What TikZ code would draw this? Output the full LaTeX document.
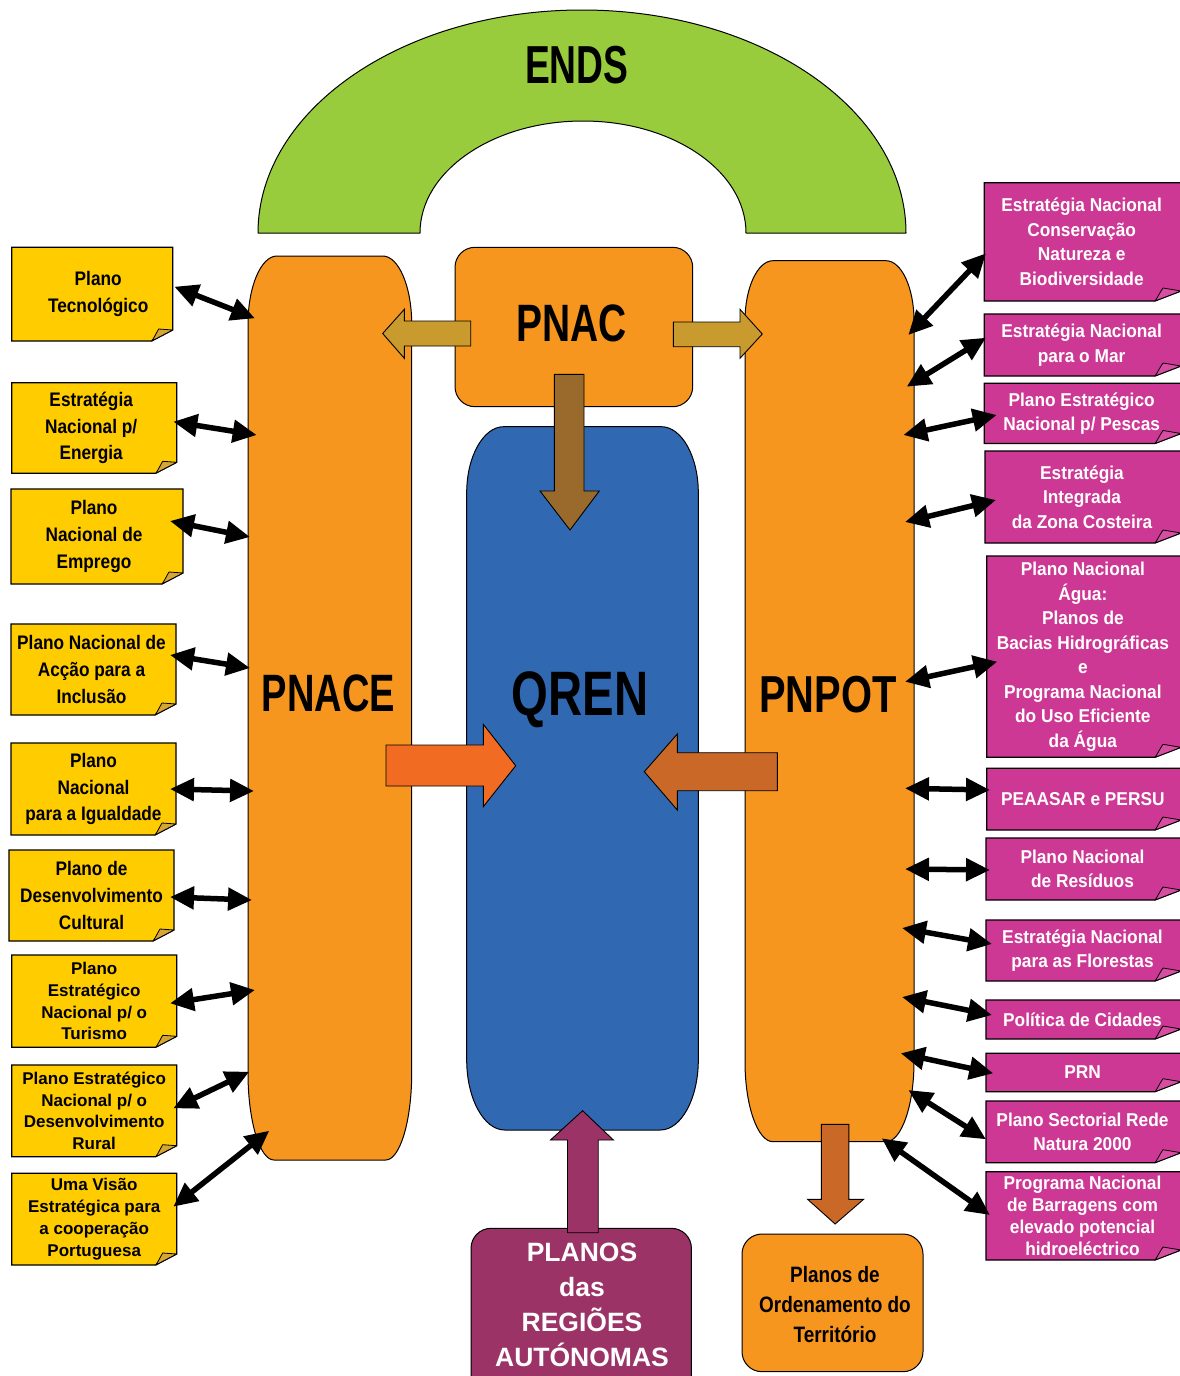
\documentclass[tikz,border=0pt]{standalone}
\usepackage{fontspec}
\setmainfont{Liberation Sans}
\newfontfamily\fT{Liberation Sans}[FakeStretch=0.74]
\newfontfamily\fL{Liberation Sans}[FakeStretch=0.88]
\newfontfamily\fR{Liberation Sans}[FakeStretch=0.93]
\newfontfamily\fO{Liberation Sans}[FakeStretch=0.85]
\usetikzlibrary{arrows.meta}
\definecolor{cOr}{HTML}{F7961E}
\definecolor{cYe}{HTML}{FFCC00}
\definecolor{cYf}{HTML}{D6A635}
\definecolor{cMa}{HTML}{CD3894}
\definecolor{cMf}{HTML}{D64DA2}
\definecolor{cBl}{HTML}{3068B2}
\definecolor{cGr}{HTML}{99CC3D}
\definecolor{cPu}{HTML}{9B3366}
\definecolor{cGo}{HTML}{C99A2E}
\definecolor{cBr}{HTML}{9A6A2C}
\definecolor{cRo}{HTML}{F26B23}
\definecolor{cCu}{HTML}{CA6828}
\tikzset{
  shp/.style={draw=black, line width=1pt, line join=round},
  ybx/.style={fill=cYe, draw=black, line width=1.2pt},
  yflap/.style={fill=cYf, draw=black, line width=0.8pt, line join=round},
  mbx/.style={fill=cMa, draw=black, line width=1.2pt},
  mflap/.style={fill=cMf, draw=black, line width=0.8pt, line join=round},
  blk/.style={draw=black, line width=0.9pt, line join=miter},
  lt/.style={align=center, inner sep=0pt, text=black, font=\fL\bfseries\fontsize{19.6}{26.7}\selectfont},
  lb/.style={align=center, inner sep=0pt, text=black, font=\bfseries\fontsize{17}{21.7}\selectfont},
  rt/.style={align=center, inner sep=0pt, text=white, font=\fR\bfseries\fontsize{18.6}{24.5}\selectfont},
  rtb/.style={align=center, inner sep=0pt, text=white, font=\fR\bfseries\fontsize{18.6}{22.2}\selectfont},
  ttl/.style={anchor=base, inner sep=0pt, text=black, font=\fT\bfseries\fontsize{#1}{#1}\selectfont},
  dbl/.style={line width=5.5pt, arrows={Triangle[length=24pt,width=22pt]-Triangle[length=24pt,width=22pt]}},
}
% column with elliptical corners: x1,y1,x2,y2,rxT,ryT,rxB,ryB
\newcommand{\colshape}[9]{%
  \path[#1] (#2,#3+#7) .. controls (#2,#3+0.45*#7) and (#2+0.45*#6,#3) .. (#2+#6,#3)
    -- (#4-#6,#3) .. controls (#4-0.45*#6,#3) and (#4,#3+0.45*#7) .. (#4,#3+#7)
    -- (#4,#5-#9) .. controls (#4,#5-0.45*#9) and (#4-0.45*#8,#5) .. (#4-#8,#5)
    -- (#2+#8,#5) .. controls (#2+0.45*#8,#5) and (#2,#5-0.45*#9) .. (#2,#5-#9) -- cycle;}
% yellow folded box: name,x1,y1,x2,y2,style,text
\newcommand{\yelbox}[7]{%
  \path[ybx] (#2,#3) -- (#4,#3) -- (#4,#5-11) -- (#4-21,#5) -- (#2,#5) -- cycle;
  \path[yflap] (#4-21,#5) .. controls (#4-18,#5-4) and (#4-16,#5-9) .. (#4-14,#5-12) -- (#4,#5-11) -- cycle;
  \node[#6] (#1) at ({(#2+#4)/2},{(#3+#5)/2}) {#7};}
% magenta folded box: name,x1,y1,y2,style,text
\newcommand{\magbox}[6]{%
  \path[mbx] (#2,#3) -- (1181,#3) -- (1181,#4-10) -- (1155,#4) -- (#2,#4) -- cycle;
  \path[mflap] (1155,#4) .. controls (1158,#4-4) and (1160,#4-9) .. (1163,#4-13) -- (1181,#4-10) -- cycle;
  \node[#5] (#1) at ({(#2+1179)/2},{(#3+#4)/2}) {#6};}
\begin{document}
\begin{tikzpicture}[x=1pt,y=-1pt]
\useasboundingbox (0,0) rectangle (1179,1376);
% ENDS arc
\path[shp, fill=cGr] (258,233) .. controls (258,109.8) and (403.1,10) .. (582,10)
  .. controls (760.9,10) and (906,109.8) .. (906,233) -- (746,233)
  .. controls (746,171.1) and (673,121) .. (583,121)
  .. controls (493,121) and (420,171.1) .. (420,233) -- cycle;
\node[ttl=53.5] (ends) at (576.7,83.3) {\scalebox{0.94}[1]{ENDS}};
% columns
\colshape{shp, fill=cOr}{248}{256}{411.7}{1160}{29}{68}{26}{87}
\colshape{shp, fill=cOr}{745}{260.7}{914}{1141.7}{28}{60}{28}{80}
\colshape{shp, fill=cBl}{466.7}{426.7}{698.3}{1130}{37}{66}{38}{70}
% PNAC box
\path[shp, fill=cOr, rounded corners=20pt] (455,247.3) rectangle (692.7,406.7);
% block arrows
\path[blk, fill=cGo] (470.7,321) -- (404.3,321) -- (404.3,309.3) -- (382.7,333.5) -- (404.3,358.3) -- (404.3,346) -- (470.7,346) -- cycle;
\path[blk, fill=cGo] (673.3,322) -- (740,322) -- (740,309.3) -- (762.3,334) -- (740,358.3) -- (740,346.7) -- (673.3,346.7) -- cycle;
\path[blk, fill=cBr] (554.3,374.3) -- (584,374.3) -- (584,491) -- (599.3,491) -- (570,530) -- (540,491) -- (554.3,491) -- cycle;
\path[blk, fill=cRo] (386,745) -- (483.3,745) -- (483.3,724.3) -- (515.7,765.7) -- (483.3,806.7) -- (483.3,786) -- (386,786) -- cycle;
\path[blk, fill=cCu] (777.3,752.7) -- (677.3,752.7) -- (677.3,734) -- (644.3,771.7) -- (677.3,810) -- (677.3,790.7) -- (777.3,790.7) -- cycle;
% titles
\node[ttl=52.6] (pnac) at (571.7,341) {PNAC};
\node[ttl=52.6] (pnace) at (328.3,711.7) {\scalebox{0.978}[1]{PNACE}};
\node[ttl=52] (pnpot) at (828,712.3) {\scalebox{1.036}[1]{PNPOT}};
\node[ttl=62.8] (qren) at (580,715) {\scalebox{1.017}[1]{QREN}};
% bottom boxes
\path[shp, fill=cPu, rounded corners=20pt] (471,1228.3) rectangle (691.4,1400);
\path[shp, fill=cOr, rounded corners=20pt] (742,1234) rectangle (923,1371.7);
\path[blk, fill=cPu] (567.5,1232.7) -- (567.5,1140) -- (550.5,1140) -- (582.6,1110.7) -- (613.4,1140) -- (598.2,1140) -- (598.2,1232.7) -- cycle;
\path[blk, fill=cCu] (821.4,1124.3) -- (848.9,1124.3) -- (848.9,1199.3) -- (863.6,1199.3) -- (835.1,1224) -- (807.6,1199.3) -- (821.4,1199.3) -- cycle;
\node[align=center, inner sep=0pt, text=white, font=\bfseries\fontsize{26.5}{35}\selectfont] (planos) at (582,1305) {PLANOS\\das\\REGIÕES\\AUTÓNOMAS};
\node[align=center, inner sep=0pt, text=black, font=\fO\bfseries\fontsize{22.3}{30}\selectfont] (ordem) at (835,1305) {Planos de\\Ordenamento do\\Território};
% left yellow boxes
\yelbox{y1}{11.7}{247.3}{172.7}{341}{lt, xshift=6pt}{Plano\\Tecnológico}
\yelbox{y2}{11.7}{382.7}{176.7}{473.3}{lt, xshift=-3pt}{Estratégia\\Nacional p/\\Energia}
\yelbox{y3}{11}{489}{183}{584}{lt, xshift=-3pt}{Plano\\Nacional de\\Emprego}
\yelbox{y4}{11}{624}{176}{715}{lt, xshift=-2pt}{Plano Nacional de\\Acção para a\\Inclusão}
\yelbox{y5}{11}{743}{176}{835}{lt}{Plano\\Nacional\\para a Igualdade}
\yelbox{y6}{9}{850}{174}{941}{lt}{Plano de\\Desenvolvimento\\Cultural}
\yelbox{y7}{11.7}{955}{176.7}{1047.3}{lb}{Plano\\Estratégico\\Nacional p/ o\\Turismo}
\yelbox{y8}{11.7}{1065}{176.7}{1156.7}{lb}{Plano Estratégico\\Nacional p/ o\\Desenvolvimento\\Rural}
\yelbox{y9}{11.7}{1173.3}{176.7}{1265}{lb}{Uma Visão\\Estratégica para\\a cooperação\\Portuguesa}
% right magenta boxes
\magbox{m1}{984.3}{182.7}{301}{rt}{Estratégia Nacional\\Conservação\\Natureza e\\Biodiversidade}
\magbox{m2}{984.3}{314}{376}{rt}{Estratégia Nacional\\para o Mar}
\magbox{m3}{984.3}{383.3}{443.5}{rt}{Plano Estratégico\\Nacional p/ Pescas}
\magbox{m4}{985}{451}{543}{rt}{Estratégia\\Integrada\\da Zona Costeira}
\magbox{m5}{986.7}{556}{757.3}{rt}{Plano Nacional\\Água:\\Planos de\\Bacias Hidrográficas\\e\\Programa Nacional\\do Uso Eficiente\\da Água}
\magbox{m6}{986.7}{768.3}{830}{rt}{PEAASAR e PERSU}
\magbox{m7}{986}{838}{900}{rt}{Plano Nacional\\de Resíduos}
\magbox{m8}{986}{920}{981}{rt}{Estratégia Nacional\\para as Florestas}
\magbox{m9}{986}{1000}{1039}{rt}{Política de Cidades}
\magbox{m10}{986}{1053.3}{1091.7}{rt}{PRN}
\magbox{m11}{986}{1101}{1162.7}{rt}{Plano Sectorial Rede\\Natura 2000}
\magbox{m12}{986}{1171.7}{1260}{rtb}{Programa Nacional\\de Barragens com\\elevado potencial\\hidroeléctrico}
% connector end points
\coordinate (a1) at (174.3,286.7);  \coordinate (b1) at (255,318.3);
\coordinate (a2) at (173.3,421.7);  \coordinate (b2) at (256.7,435);
\coordinate (a3) at (170,521);      \coordinate (b3) at (250,537);
\coordinate (a4) at (170,655);      \coordinate (b4) at (250,668);
\coordinate (a5) at (170,789);      \coordinate (b5) at (254,791);
\coordinate (a6) at (170,897);      \coordinate (b6) at (252,900);
\coordinate (a7) at (170,1003.3);   \coordinate (b7) at (255,990);
\coordinate (a8) at (173.3,1108.3); \coordinate (b8) at (249.3,1071.7);
\coordinate (a9) at (173.3,1206.7); \coordinate (b9) at (269.3,1130.7);
\coordinate (c1) at (908.3,335);    \coordinate (d1) at (986,253.3);
\coordinate (c2) at (906.7,386.7);  \coordinate (d2) at (986,337.7);
\coordinate (c3) at (903.3,435);    \coordinate (d3) at (996.7,415);
\coordinate (c4) at (905,522);      \coordinate (d4) at (996,500);
\coordinate (c5) at (905,681.7);    \coordinate (d5) at (997.3,661.7);
\coordinate (c6) at (905,788.3);    \coordinate (d6) at (990,790);
\coordinate (c7) at (905,869);      \coordinate (d7) at (990,870);
\coordinate (c8) at (902,928);      \coordinate (d8) at (992,944);
\coordinate (c9) at (902,997);      \coordinate (d9) at (992,1015);
\coordinate (c10) at (900.7,1053.3);\coordinate (d10) at (993.3,1073.3);
\coordinate (c11) at (908.3,1090);  \coordinate (d11) at (986,1139.3);
\coordinate (c12) at (881.7,1138.3);\coordinate (d12) at (990,1215);
\foreach \i in {1,...,9} {\draw[dbl] (a\i) -- (b\i);}
\foreach \i in {1,...,12} {\draw[dbl] (c\i) -- (d\i);}
\end{tikzpicture}
\end{document}
